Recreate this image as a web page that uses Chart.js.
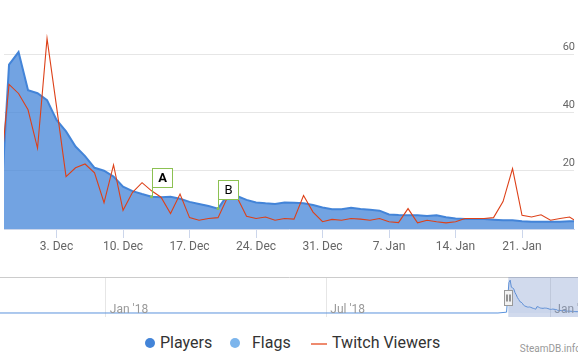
<!DOCTYPE html>
<html><head><meta charset="utf-8">
<script src="https://cdn.jsdelivr.net/npm/chart.js@4.4.1/dist/chart.umd.min.js"></script>
<style>
html,body{margin:0;padding:0;background:#fff;width:578px;height:356px;overflow:hidden;font-family:Roboto,sans-serif;}
canvas{position:absolute;left:0;}
#main{top:0;}
#nav{top:277px;}
.leg{position:absolute;top:335px;font-size:16px;line-height:16px;color:#333;white-space:nowrap;}
.dot{position:absolute;width:10px;height:10px;border-radius:50%;top:338px;}
.ln{position:absolute;height:2px;top:343px;width:16px;}
#credit{position:absolute;right:-3px;top:343px;font-size:10px;line-height:12px;color:#999;white-space:nowrap;}
</style></head>
<body>
<canvas id="main" width="578" height="260"></canvas>
<canvas id="nav" width="578" height="40"></canvas>
<div class="dot" style="left:145px;background:#4384d8"></div><div class="leg" style="left:160px">Players</div>
<div class="dot" style="left:230px;background:#7cb5ec"></div><div class="leg" style="left:252px">Flags</div>
<div class="ln" style="left:311px;background:#ee8a6e"></div><div class="leg" style="left:332px">Twitch Viewers</div>
<div id="credit">SteamDB.info</div>
<script>
// days relative to 3 Dec 2018
const dayOffsets = [-6,-5,-4,-3,-2,-1,0,1,2,3,4,5,6,7,8,9,10,11,12,13,14,15,16,17,18,19,20,21,22,23,24,25,26,27,28,29,30,31,32,33,34,35,36,37,38,39,40,41,42,43,44,45,46,47,48,49,50,51,52,53,54,55];
const players = [0,56.4,60.7,47.6,46.6,44.2,37.4,33.5,28.3,25,21,20,18,14.5,13,12,11.1,10.9,11.1,10.4,9.3,8.6,7.9,7.0,11.7,11.3,10,9.1,8.8,8.6,9.1,9.0,8.8,8.2,7.4,6.8,6.8,7.3,6.9,6.6,6.3,5,4.8,4.7,4.7,4.5,4.7,4.0,3.6,3.4,3.4,3.4,3.2,3.0,3.0,2.7,2.5,2.5,2.5,2.5,2.7,2.7];
const twitch = [15.5,49.6,46.5,40.9,27.7,65.4,42,18,21,22.3,19.3,9,22,6.4,12.6,15.9,13.1,10.9,5.3,12,3.9,3,3.6,3.9,10.9,10.9,4.4,3.6,4.1,3,3.6,3.4,11.5,5.8,2.5,3.3,3,3.6,3.4,3,3.6,2.5,2.2,7,2.1,3,2.5,2.1,2.5,3.6,3.6,3.6,3.9,9.4,20.7,4.7,4.1,4.9,3,3.6,4.1,2];
const flagDays = [10,17];
const flagTitles = ['A','B'];
const tickDays = [0,7,14,21,28,35,42,49];
const tickLabels = ['3. Dec','10. Dec','17. Dec','24. Dec','31. Dec','7. Jan','14. Jan','21. Jan'];
const yTickValues = [20,40,60];
// navigator: days since 1 Jan 2018
const navPreDays = [-87,322,329];
const navPreValues = [0,0,1.5];
const navReleaseDay = 336; // 3 Dec 2018
const navTickDays = [0,181,365];
const navTickLabels = ["Jan '18","Jul '18","Jan '19"];

const view = {min:-5.53, max:54.47};
const noPad = s => { s.paddingLeft=0; s.paddingRight=0; s.paddingTop=0; s.paddingBottom=0; };

const flagPlugin = {
  id:'flagBoxes',
  afterDatasetsDraw(chart){
    const meta = chart.getDatasetMeta(0);
    const ctx = chart.ctx;
    meta.data.forEach((pt,i)=>{
      const x = Math.round(pt.x)+0.5, y = pt.y;
      const bw=20, bh=19;
      const top = Math.round(y-10-bh)+0.5;
      ctx.save();
      ctx.strokeStyle='#8cc152'; ctx.lineWidth=1;
      ctx.beginPath(); ctx.moveTo(x,y); ctx.lineTo(x,top+bh); ctx.stroke();
      ctx.fillStyle='#fff'; ctx.fillRect(x,top,bw,bh); ctx.strokeRect(x,top,bw,bh);
      ctx.fillStyle='#000'; ctx.font=(i===0?'bold ':'')+'13px Roboto';
      ctx.textAlign='center'; ctx.textBaseline='middle';
      ctx.fillText(flagTitles[i], x+bw/2, top+bh/2+1);
      ctx.restore();
    });
  }
};

new Chart(document.getElementById('main'), {
  type:'line',
  data:{datasets:[
    {label:'Flags', type:'scatter', order:0,
     data: flagDays.map(d=>({x:d, y:players[dayOffsets.indexOf(d)]})),
     pointRadius:1.5, pointBackgroundColor:'#8cc152', pointBorderWidth:0},
    {label:'Twitch Viewers', order:1,
     data: dayOffsets.map((d,i)=>({x:d,y:twitch[i]})),
     borderColor:'#dd4119', borderWidth:1.1, pointRadius:0, fill:false, tension:0},
    {label:'Players', order:2,
     data: dayOffsets.map((d,i)=>({x:d,y:players[i]})),
     borderColor:'#4384d8', backgroundColor:'rgba(67,132,216,0.75)', borderWidth:2, pointRadius:0, fill:'origin', tension:0}
  ]},
  options:{
    responsive:false, animation:false, events:[], devicePixelRatio:1,
    layout:{padding:0},
    plugins:{legend:{display:false}, tooltip:{enabled:false}},
    scales:{
      x:{type:'linear', min:view.min, max:view.max,
         afterBuildTicks:a=>{a.ticks = tickDays.map(v=>({value:v}));},
         afterFit:a=>{a.height=31; noPad(a);},
         grid:{drawOnChartArea:false, drawTicks:true, tickLength:9, color:'#ccd6eb'},
         border:{display:true, color:'#ccd6eb'},
         ticks:{autoSkip:false, maxRotation:0, padding:2, color:'#666', font:{family:'Roboto', size:12},
                callback:v=>tickLabels[tickDays.indexOf(v)]}},
      y:{position:'right', min:0, max:77.2,
         afterBuildTicks:a=>{a.ticks = yTickValues.map(v=>({value:v}));},
         afterFit:a=>{a.width=0; noPad(a);},
         grid:{color:'#e6e6e6', drawTicks:false},
         border:{display:false},
         ticks:{mirror:true, padding:1, labelOffset:-7, color:'#666', font:{family:'Roboto', size:11},
                callback:v=>String(v)}}
    }
  },
  plugins:[flagPlugin]
});

const navPoints = navPreDays.map((d,i)=>({x:d,y:navPreValues[i]}))
  .concat(dayOffsets.slice(1).map((d,i)=>({x:navReleaseDay+d, y:players[i+1]})));

const navPlugin = {
  id:'navigatorExtras',
  afterDatasetsDraw(chart){
    const xs = chart.scales.x, ca = chart.chartArea, ctx = chart.ctx;
    ctx.save();
    ctx.font='12px Roboto'; ctx.fillStyle='#999'; ctx.textAlign='left'; ctx.textBaseline='alphabetic';
    xs.ticks.forEach(t=>{
      ctx.fillText(navTickLabels[navTickDays.indexOf(t.value)], xs.getPixelForValue(t.value)+4, ca.bottom-4);
    });
    const x0 = xs.getPixelForValue(navReleaseDay+view.min);
    const x1 = xs.getPixelForValue(navReleaseDay+view.max);
    ctx.fillStyle='rgba(102,133,194,0.3)';
    ctx.fillRect(x0, ca.top, x1-x0, ca.bottom-ca.top);
    const hx = Math.round(x0-4)+0.5, hy = Math.round((ca.top+ca.bottom)/2-7.5)+0.5;
    ctx.fillStyle='#f2f2f2'; ctx.strokeStyle='#999'; ctx.lineWidth=1;
    ctx.fillRect(hx,hy,8,15); ctx.strokeRect(hx,hy,8,15);
    ctx.strokeStyle='#333';
    ctx.beginPath(); ctx.moveTo(hx+2.5,hy+4); ctx.lineTo(hx+2.5,hy+11);
    ctx.moveTo(hx+5.5,hy+4); ctx.lineTo(hx+5.5,hy+11); ctx.stroke();
    ctx.restore();
  }
};

new Chart(document.getElementById('nav'), {
  type:'line',
  data:{datasets:[{data:navPoints, borderColor:'#5b93dd', borderWidth:1, backgroundColor:'rgba(67,132,216,0.05)', fill:'origin', pointRadius:0, tension:0}]},
  options:{
    responsive:false, animation:false, events:[], devicePixelRatio:1,
    layout:{padding:0},
    plugins:{legend:{display:false}, tooltip:{enabled:false}},
    scales:{
      x:{type:'linear', min:-86.9, max:387.7,
         afterBuildTicks:a=>{a.ticks = navTickDays.map(v=>({value:v}));},
         afterFit:a=>{a.height=0; noPad(a);},
         grid:{color:'#e6e6e6', drawTicks:false},
         border:{display:false},
         ticks:{display:false}},
      top:{axis:'x', type:'linear', position:'top', min:0, max:1,
           afterFit:a=>{a.height=0; noPad(a);},
           grid:{display:false}, ticks:{display:false},
           border:{display:true, color:'#cccccc'}},
      y:{display:false, min:-7.4, max:66.5}
    }
  },
  plugins:[navPlugin]
});
</script>
</body></html>
